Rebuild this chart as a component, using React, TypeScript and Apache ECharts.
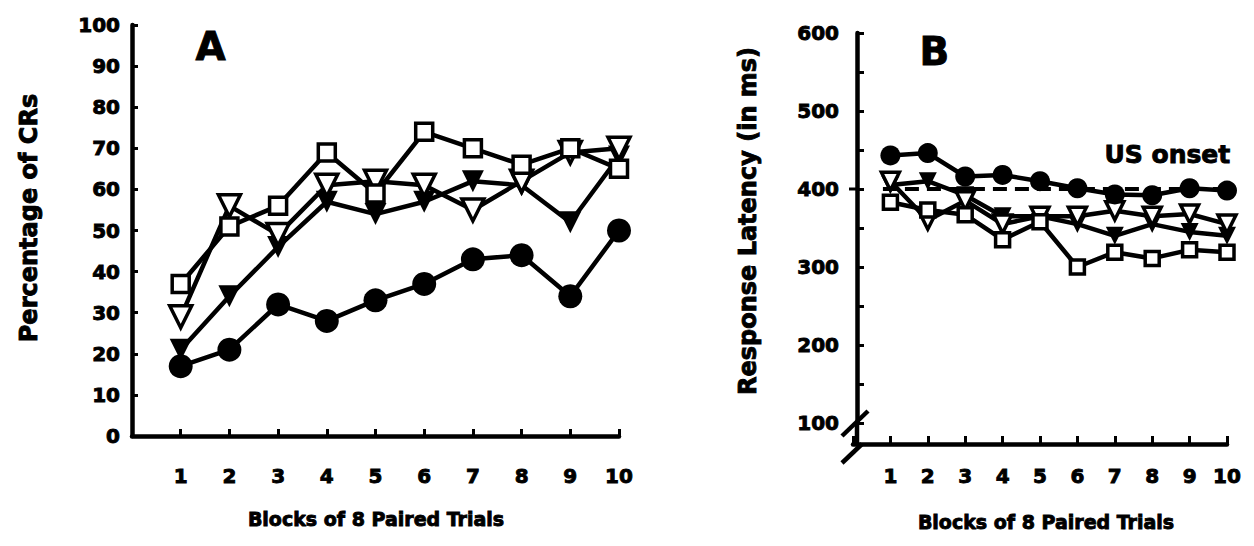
import React, { useEffect, useRef } from "react";
import * as echarts from "echarts";

const blocks = [1, 2, 3, 4, 5, 6, 7, 8, 9, 10];

// Panel A: Percentage of CRs
const aCircle = [17, 21, 32, 28, 33, 37, 43, 44, 34, 50];
const aFilledTri = [21, 34, 46, 57, 54, 57, 62, 61, 52, 68];
const aOpenTri = [29, 56, 49, 61, 62, 61, 55, 62, 69, 70];
const aSquare = [37, 51, 56, 69, 59, 74, 70, 66, 70, 65];

// Panel B: Response latency (ms)
const bCircle = [443, 446, 416, 418, 410, 401, 393, 392, 401, 398];
const bFilledTri = [405, 410, 392, 365, 365, 355, 340, 355, 345, 340];
const bOpenTri = [410, 360, 385, 355, 365, 365, 372, 365, 368, 355];
const bSquare = [383, 373, 367, 335, 358, 300, 319, 311, 322, 319];
const usOnset = 400;

const FONT = "DejaVu Sans";

function pairs(vals: number[]) {
  return blocks.map((b, i) => [b, vals[i]]);
}

export default function App() {
  const ref = useRef<HTMLDivElement>(null);
  useEffect(() => {
    if (!ref.current) return;
    const chart = echarts.init(ref.current, null, { renderer: "svg" });

    const lab = {
      color: "#000",
      fontFamily: FONT,
      fontWeight: "bold" as const,
      fontSize: 20,
      textBorderColor: "#000",
      textBorderWidth: 0.9,
    };
    const line = { color: "#000", width: 4.5 };

    const mk = (
      name: string,
      vals: number[],
      idx: number,
      symbol: string,
      size: number,
      filled: boolean,
      rotate: number,
      z: number,
      extra: any = {}
    ) => ({
      type: "line",
      name,
      xAxisIndex: idx,
      yAxisIndex: idx,
      data: pairs(vals),
      symbol,
      symbolSize: size,
      symbolRotate: rotate,
      showAllSymbol: true,
      lineStyle: { color: "#000", width: 4.5 },
      itemStyle: {
        color: filled ? "#000" : "#fff",
        borderColor: "#000",
        borderWidth: filled ? 0 : 3.5,
        opacity: 1,
      },
      z,
      ...extra,
    });

    const txt = (text: string, size: number) => ({
      text,
      fill: "#000",
      font: `bold ${size}px "${FONT}"`,
      stroke: "#000",
      lineWidth: 0.9,
    });

    chart.setOption({
      animation: false,
      backgroundColor: "#fff",
      grid: [
        { left: 132, top: 25, width: 487, height: 411 },
        { left: 853, top: 33, width: 374, height: 390 },
      ],
      xAxis: [
        {
          gridIndex: 0,
          type: "value",
          min: 0,
          max: 10,
          interval: 1,
          axisLine: { lineStyle: line },
          axisTick: { inside: true, length: 7, lineStyle: { color: "#000", width: 3 } },
          axisLabel: { ...lab, margin: 30, formatter: (v: number) => (v === 0 ? "" : String(v)) },
          splitLine: { show: false },
        },
        {
          gridIndex: 1,
          type: "value",
          min: 0,
          max: 10,
          interval: 1,
          offset: 21,
          axisLine: { lineStyle: line },
          axisTick: { inside: true, length: 8, lineStyle: { color: "#000", width: 3 } },
          axisLabel: { ...lab, margin: 22, formatter: (v: number) => (v === 0 ? "" : String(v)) },
          splitLine: { show: false },
        },
      ],
      yAxis: [
        {
          gridIndex: 0,
          type: "value",
          min: 0,
          max: 100,
          interval: 10,
          axisLine: { lineStyle: line },
          axisTick: { inside: true, length: 6, lineStyle: { color: "#000", width: 3 } },
          axisLabel: { ...lab, margin: 12 },
          splitLine: { show: false },
        },
        {
          gridIndex: 1,
          type: "value",
          min: 100,
          max: 600,
          interval: 50,
          offset: -4,
          axisLine: { lineStyle: line },
          axisTick: { inside: true, length: 7, lineStyle: { color: "#000", width: 3 } },
          axisLabel: {
            ...lab,
            margin: 18,
            formatter: (v: number) => (v % 100 === 0 ? String(v) : ""),
          },
          splitLine: { show: false },
        },
      ],
      series: [
        mk("A filled triangle", aFilledTri, 0, "triangle", 22, true, 180, 2),
        mk("A open triangle", aOpenTri, 0, "triangle", 22, false, 180, 3),
        mk("A square", aSquare, 0, "rect", 17, false, 0, 4),
        mk("A circle", aCircle, 0, "circle", 24, true, 0, 5),
        mk("B filled triangle", bFilledTri, 1, "triangle", 18, true, 180, 2),
        mk("B open triangle", bOpenTri, 1, "triangle", 18, false, 180, 3),
        mk("B square", bSquare, 1, "rect", 14, false, 0, 4),
        mk("B circle", bCircle, 1, "circle", 20, true, 0, 5, {
          markLine: {
            silent: true,
            symbol: "none",
            label: { show: false },
            lineStyle: { color: "#000", width: 4, type: [14, 8] },
            data: [[{ coord: [0.8, usOnset] }, { coord: [10, usOnset] }]],
          },
        }),
      ],
      graphic: [
        { type: "text", left: 195, top: 27, style: txt("A", 39) },
        { type: "text", left: 919, top: 32, style: txt("B", 39) },
        { type: "text", left: 1104, top: 142, style: txt("US onset", 25) },
        {
          type: "text",
          x: 29,
          y: 218,
          rotation: Math.PI / 2,
          style: { ...txt("Percentage of CRs", 24), align: "center", verticalAlign: "middle" },
        },
        {
          type: "text",
          x: 748,
          y: 221,
          rotation: Math.PI / 2,
          style: { ...txt("Response Latency (in ms)", 24), align: "center", verticalAlign: "middle" },
        },
        {
          type: "text",
          x: 376,
          y: 519,
          style: { ...txt("Blocks of 8 Paired Trials", 19), align: "center", verticalAlign: "middle" },
        },
        {
          type: "text",
          x: 1046,
          y: 522,
          style: { ...txt("Blocks of 8 Paired Trials", 19), align: "center", verticalAlign: "middle" },
        },
        // B axis break
        { type: "line", shape: { x1: 857, y1: 423, x2: 857, y2: 444 }, style: { stroke: "#000", lineWidth: 4.5 } },
        { type: "line", shape: { x1: 842, y1: 436, x2: 868, y2: 411 }, style: { stroke: "#000", lineWidth: 4.5 } },
        { type: "line", shape: { x1: 842, y1: 463, x2: 862, y2: 444 }, style: { stroke: "#000", lineWidth: 4.5 } },
        { type: "line", shape: { x1: 849, y1: 189, x2: 858, y2: 189 }, style: { stroke: "#000", lineWidth: 3 } },
      ],
    });
    return () => chart.dispose();
  }, []);
  return (
    <div
      ref={ref}
      style={{ position: "absolute", left: 0, top: 0, width: 1254, height: 546, background: "#fff" }}
    />
  );
}
